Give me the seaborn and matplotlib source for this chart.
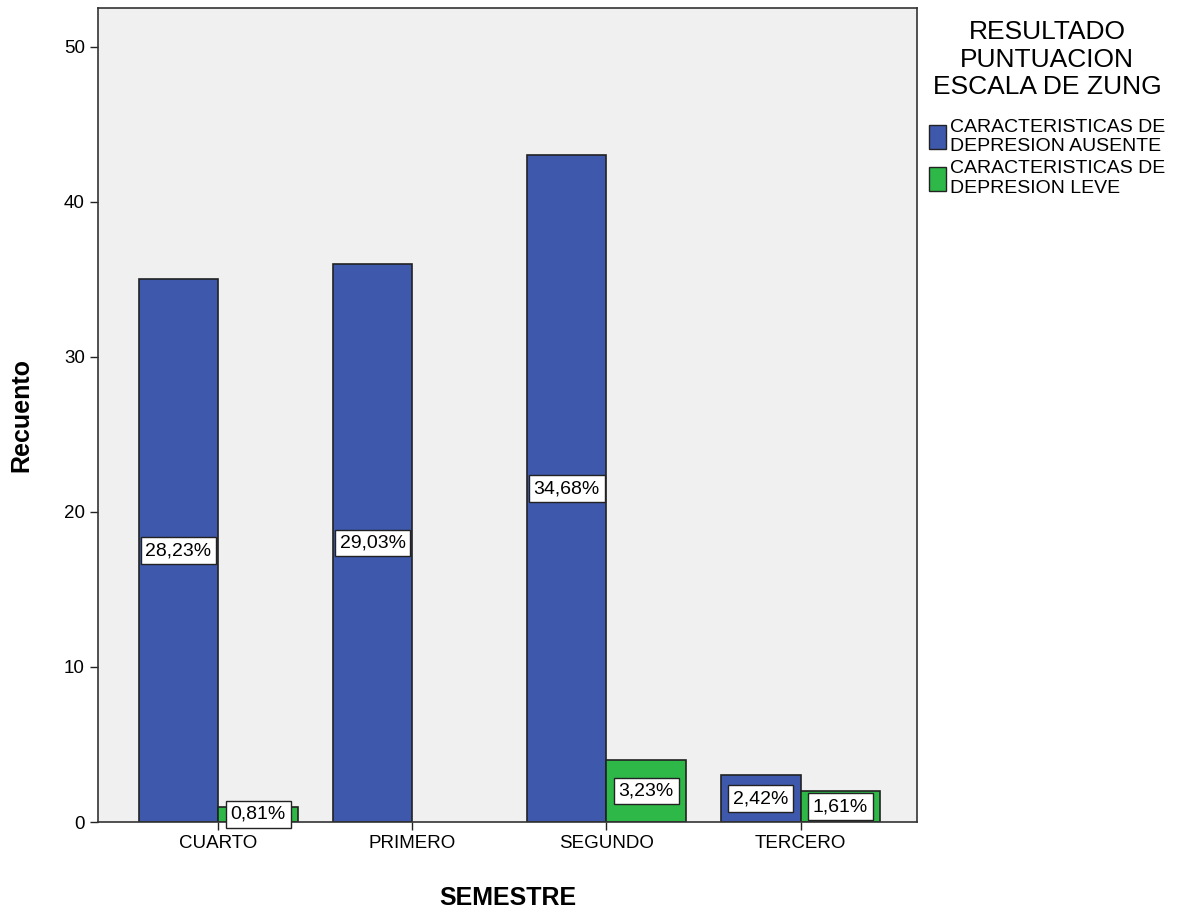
import matplotlib
matplotlib.use("Agg")
import matplotlib.pyplot as plt
import seaborn as sns
import pandas as pd
from matplotlib.patches import Patch

categories = ["CUARTO", "PRIMERO", "SEGUNDO", "TERCERO"]
series_names = ["CARACTERISTICAS DE\nDEPRESION AUSENTE", "CARACTERISTICAS DE\nDEPRESION LEVE"]
ausente = [35, 36, 43, 3]
leve = [1, 0, 4, 2]
ausente_pct = ["28,23%", "29,03%", "34,68%", "2,42%"]
leve_pct = ["0,81%", "", "3,23%", "1,61%"]
colors = ["#3e58ac", "#2eb848"]

sns.set_theme(style="white")
plt.rcParams['font.family'] = ['Liberation Sans', 'DejaVu Sans']
plt.rcParams['text.color'] = 'black'
plt.rcParams['axes.labelcolor'] = 'black'
plt.rcParams['xtick.color'] = 'black'
plt.rcParams['ytick.color'] = 'black'

rows = []
for c, a, l in zip(categories, ausente, leve):
    rows.append({"SEMESTRE": c, "serie": series_names[0], "Recuento": a})
    rows.append({"SEMESTRE": c, "serie": series_names[1], "Recuento": l})
df = pd.DataFrame(rows)

fig = plt.figure(figsize=(11.86, 9.09), dpi=100)
ax = fig.add_axes([0.0826, 0.0957, 0.6906, 0.8955])
ax.set_facecolor("#f0f0f0")

sns.barplot(data=df, x="SEMESTRE", y="Recuento", hue="serie", order=categories,
            hue_order=series_names, palette=colors, width=0.82, gap=0,
            edgecolor="#222222", linewidth=1.2, saturation=1, ax=ax, legend=False)

# hide zero-height bars
for cont in ax.containers:
    for bar in cont:
        if bar.get_height() == 0:
            bar.set_visible(False)

# labels
for cont, labels in zip(ax.containers, [ausente_pct, leve_pct]):
    for bar, lab in zip(cont, labels):
        if not lab:
            continue
        h = bar.get_height()
        xc = bar.get_x() + bar.get_width() / 2
        ax.text(xc, h / 2, lab, ha="center", va="center", fontsize=14,
                bbox=dict(boxstyle="square,pad=0.25", fc="white", ec="#222222", lw=1),
                zorder=5, clip_on=False)

ax.set_xlim(-0.62, 3.60)
ax.set_ylim(0, 52.5)
ax.set_yticks([0, 10, 20, 30, 40, 50])
ax.tick_params(axis="both", which="both", direction="out", length=6, width=1,
               color="#222222", labelsize=13.5, bottom=True, left=True)
ax.set_xlabel("SEMESTRE", fontsize=18, fontweight="bold", labelpad=24)
ax.set_ylabel("Recuento", fontsize=18, fontweight="bold", labelpad=22)
for s in ax.spines.values():
    s.set_visible(True)
    s.set_color("#333333")
    s.set_linewidth(1.2)

handles = [Patch(facecolor=colors[i], edgecolor="#222222", label=series_names[i]) for i in range(2)]
leg = ax.legend(handles=handles, title="RESULTADO\nPUNTUACION\nESCALA DE ZUNG",
                loc="upper left", bbox_to_anchor=(1.005, 0.995), frameon=False,
                fontsize=14, title_fontsize=19, handlelength=0.9, handleheight=1.5,
                handletextpad=0.2, labelspacing=0.25, borderaxespad=0)
leg.get_title().set_multialignment("center")
leg._legend_box.sep = 14

fig.savefig("out.png", dpi=100)
